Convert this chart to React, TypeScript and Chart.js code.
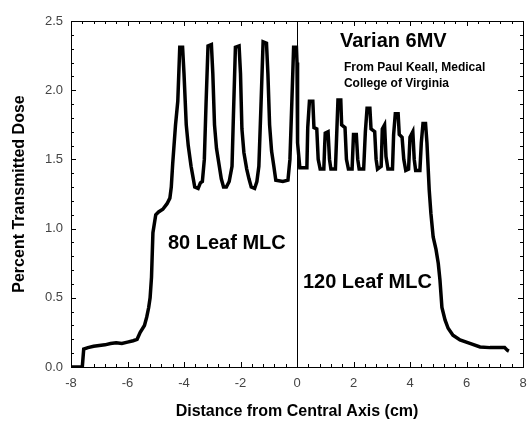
import React, { useEffect, useRef } from "react";
import { Chart, registerables } from "chart.js";

Chart.register(...registerables);

// Profile: distance from central axis (cm) vs percent transmitted dose
const distanceCm: number[] = [
  -8.0, -7.6, -7.55, -7.4, -7.2, -7.0, -6.8, -6.6, -6.4, -6.2, -6.0, -5.8, -5.66, -5.55, -5.4, -5.32, -5.25, -5.2, -5.15, -5.1,
  -5.0, -4.9, -4.75, -4.6, -4.5, -4.45, -4.4, -4.3, -4.22, -4.15, -4.05, -4.0, -3.92, -3.85, -3.75, -3.68, -3.62, -3.5, -3.42, -3.35,
  -3.28, -3.22, -3.15, -3.03, -2.98, -2.92, -2.85, -2.75, -2.68, -2.6, -2.5, -2.4, -2.3, -2.25, -2.18, -2.05, -2.0, -1.95, -1.88, -1.78,
  -1.7, -1.62, -1.5, -1.42, -1.35, -1.28, -1.2, -1.08, -1.03, -0.97, -0.9, -0.82, -0.75, -0.5, -0.32, -0.25, -0.18, -0.12, -0.02, 0.0,
  0.02, 0.1, 0.35, 0.38, 0.44, 0.56, 0.6, 0.7, 0.75, 0.82, 0.95, 0.98, 1.0, 1.1, 1.15, 1.2, 1.36, 1.4, 1.45, 1.55,
  1.58, 1.7, 1.75, 1.82, 1.95, 2.0, 2.1, 2.15, 2.2, 2.36, 2.42, 2.48, 2.58, 2.62, 2.75, 2.8, 2.85, 2.98, 3.02, 3.1,
  3.15, 3.22, 3.38, 3.42, 3.48, 3.58, 3.62, 3.72, 3.78, 3.85, 3.95, 4.0, 4.1, 4.15, 4.2, 4.35, 4.4, 4.46, 4.55, 4.6,
  4.64, 4.68, 4.74, 4.82, 4.92, 5.0, 5.06, 5.13, 5.24, 5.35, 5.52, 5.77, 6.12, 6.48, 6.83, 7.2, 7.35, 7.45, 7.5,
];

const transmittedDose: number[] = [
  0.0, 0.0, 0.13, 0.14, 0.15, 0.155, 0.16, 0.17, 0.175, 0.17, 0.18, 0.19, 0.2, 0.25, 0.3, 0.36, 0.43, 0.5, 0.65, 0.97,
  1.1, 1.12, 1.14, 1.18, 1.22, 1.3, 1.47, 1.75, 1.92, 2.31, 2.31, 2.12, 1.75, 1.6, 1.45, 1.37, 1.3, 1.29, 1.33, 1.34,
  1.5, 1.9, 2.32, 2.33, 2.12, 1.75, 1.58, 1.45, 1.36, 1.3, 1.3, 1.34, 1.45, 1.82, 2.31, 2.32, 2.12, 1.72, 1.55, 1.43,
  1.36, 1.3, 1.29, 1.34, 1.45, 1.86, 2.35, 2.34, 2.12, 1.75, 1.56, 1.45, 1.35, 1.34, 1.35, 1.5, 1.93, 2.31, 2.31, 2.2,
  1.62, 1.44, 1.44, 1.73, 1.92, 1.92, 1.73, 1.72, 1.5, 1.43, 1.43, 1.6, 1.69, 1.7, 1.5, 1.43, 1.43, 1.65, 1.93, 1.93,
  1.75, 1.73, 1.5, 1.43, 1.43, 1.68, 1.68, 1.5, 1.43, 1.43, 1.7, 1.87, 1.87, 1.72, 1.7, 1.5, 1.43, 1.45, 1.72, 1.75,
  1.52, 1.43, 1.43, 1.68, 1.83, 1.83, 1.68, 1.66, 1.5, 1.42, 1.43, 1.66, 1.7, 1.5, 1.42, 1.42, 1.62, 1.76, 1.76, 1.62,
  1.45, 1.28, 1.11, 0.94, 0.85, 0.75, 0.63, 0.43, 0.34, 0.28, 0.23, 0.195, 0.17, 0.145, 0.14, 0.14, 0.14, 0.12, 0.115,
];

const xTickValues: number[] = [-8, -6, -4, -2, 0, 2, 4, 6, 8];
const yTickValues: number[] = [0, 0.5, 1.0, 1.5, 2.0, 2.5];

const xTitle = "Distance from Central Axis (cm)";
const yTitle = "Percent Transmitted Dose";

type Note = { text: string; x: number; y: number; size: number };
const notes: Note[] = [
  { text: "Varian 6MV", x: 1.52, y: 2.355, size: 20 },
  { text: "From Paul Keall, Medical", x: 1.66, y: 2.16, size: 12 },
  { text: "College of Virginia", x: 1.66, y: 2.05, size: 12 },
  { text: "80 Leaf MLC", x: -4.57, y: 0.896, size: 20 },
  { text: "120 Leaf MLC", x: 0.21, y: 0.614, size: 20 },
];

const FONT = "Arial, 'Liberation Sans', Helvetica, sans-serif";

const framePlugin = {
  id: "frameTicks",
  afterDatasetsDraw(chart: any) {
    const { ctx, chartArea, scales } = chart;
    const { left, right, top, bottom } = chartArea;
    const xs = scales.x;
    const ys = scales.y;
    ctx.save();
    ctx.strokeStyle = "#000";
    ctx.lineWidth = 1;
    // central axis line
    const x0 = Math.round(xs.getPixelForValue(0)) + 0.5;
    ctx.beginPath();
    ctx.moveTo(x0, bottom);
    ctx.lineTo(x0, top);
    ctx.stroke();
    // frame
    ctx.strokeRect(Math.round(left) + 0.5, Math.round(top) + 0.5, Math.round(right - left), Math.round(bottom - top));
    // x ticks (minor every 0.4, major every 2)
    ctx.beginPath();
    for (let i = 0; i <= 40; i++) {
      const v = -8 + i * 0.4;
      const major = i % 5 === 0;
      const len = major ? 5 : 3;
      const px = Math.round(xs.getPixelForValue(v)) + 0.5;
      ctx.moveTo(px, bottom);
      ctx.lineTo(px, bottom - len);
      ctx.moveTo(px, top);
      ctx.lineTo(px, top + len);
    }
    // y ticks (minor every 0.1, major every 0.5)
    for (let i = 0; i <= 25; i++) {
      const v = i * 0.1;
      const major = i % 5 === 0;
      const len = major ? 5 : 3;
      const py = Math.round(ys.getPixelForValue(v)) + 0.5;
      ctx.moveTo(left, py);
      ctx.lineTo(left + len, py);
      ctx.moveTo(right, py);
      ctx.lineTo(right - len, py);
    }
    ctx.stroke();
    // annotations
    ctx.fillStyle = "#000";
    ctx.textBaseline = "middle";
    ctx.textAlign = "left";
    for (const n of notes) {
      ctx.font = `bold ${n.size}px ${FONT}`;
      ctx.fillText(n.text, xs.getPixelForValue(n.x), ys.getPixelForValue(n.y));
    }
    ctx.restore();
  },
};

export default function App() {
  const canvasRef = useRef<HTMLCanvasElement | null>(null);

  useEffect(() => {
    if (!canvasRef.current) return;
    const points = distanceCm.map((d, i) => ({ x: d, y: transmittedDose[i] }));
    const chart = new Chart(canvasRef.current, {
      type: "line",
      data: {
        datasets: [
          {
            data: points,
            borderColor: "#000",
            borderWidth: 3.5,
            pointRadius: 0,
            pointHoverRadius: 0,
            fill: false,
            tension: 0,
            borderJoinStyle: "miter",
          },
        ],
      },
      options: {
        animation: false,
        responsive: false,
        devicePixelRatio: 1,
        layout: { autoPadding: false, padding: { top: 21, right: 6, left: 0, bottom: 0 } },
        plugins: { legend: { display: false }, tooltip: { enabled: false } },
        scales: {
          x: {
            type: "linear",
            min: -8,
            max: 8,
            afterBuildTicks: (scale: any) => {
              scale.ticks = xTickValues.map((v) => ({ value: v }));
            },
            afterFit: (scale: any) => {
              scale.height = 54;
              scale.paddingLeft = 0;
              scale.paddingRight = 0;
            },
            grid: { display: false, drawTicks: false },
            border: { display: false },
            ticks: {
              padding: 9,
              color: "#444",
              font: { family: FONT, size: 13 },
              callback: (v: any) => String(v),
              maxRotation: 0,
            },
            title: {
              display: true,
              text: xTitle,
              color: "#000",
              font: { family: FONT, size: 16, weight: "bold", lineHeight: 1.2 },
              padding: { top: 0, bottom: 0 },
            },
          },
          y: {
            type: "linear",
            min: 0,
            max: 2.5,
            afterBuildTicks: (scale: any) => {
              scale.ticks = yTickValues.map((v) => ({ value: v }));
            },
            afterFit: (scale: any) => {
              scale.width = 71;
              scale.paddingTop = 0;
              scale.paddingBottom = 0;
            },
            grid: { display: false, drawTicks: false },
            border: { display: false },
            ticks: {
              padding: 8,
              color: "#444",
              font: { family: FONT, size: 13 },
              callback: (v: any) => Number(v).toFixed(1),
            },
            title: {
              display: true,
              text: yTitle,
              color: "#000",
              font: { family: FONT, size: 16, weight: "bold", lineHeight: 1.2 },
              padding: { top: 10, bottom: 0 },
            },
          },
        },
      },
      plugins: [framePlugin],
    });
    return () => chart.destroy();
  }, []);

  return (
    <div style={{ position: "absolute", left: 0, top: 0, width: 529, height: 421, background: "#fff" }}>
      <canvas ref={canvasRef} width={529} height={421} style={{ width: 529, height: 421 }} />
    </div>
  );
}
